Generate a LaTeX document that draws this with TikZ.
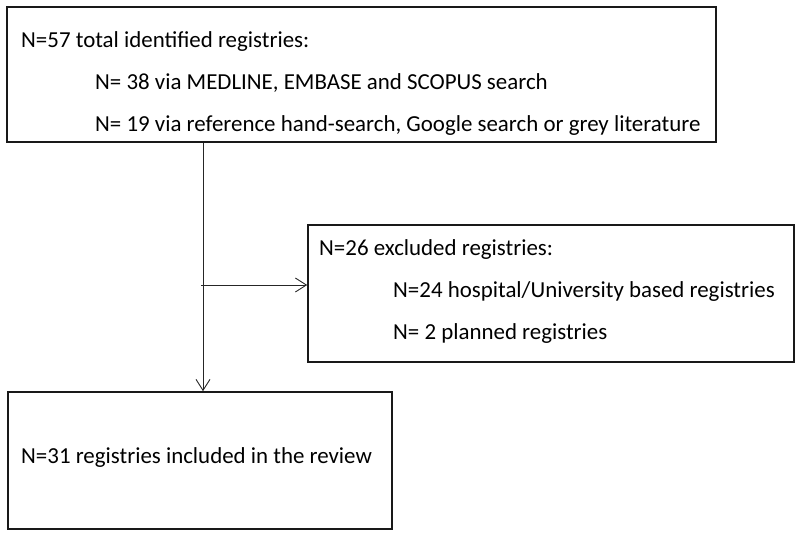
\documentclass[tikz,border=0pt]{standalone}
\usepackage{fontspec}
\setmainfont{Carlito}
\usetikzlibrary{arrows.meta}
\begin{document}
\begin{tikzpicture}[x=1pt,y=-1pt,
  box/.style={draw=black!90,line width=1.6pt,minimum width=#1,inner sep=0pt},
  txt/.style={anchor=base west,inner sep=0pt,font=\fontsize{22.9}{27}\selectfont},
  conn/.style={draw=black!85,line width=0.9pt},
  tip/.style={-{Straight Barb[length=11pt,width=14pt,line width=0.9pt]}}]
\useasboundingbox (0,0) rectangle (800,533);
% boxes
\node[box=709pt,minimum height=135pt] (top) at (361.5,74.5) {};
\node[box=486pt,minimum height=137pt] (excl) at (551,293.5) {};
\node[box=384pt,minimum height=137pt] (incl) at (200,460.5) {};
% texts
\node[txt] (t1) at (21,47) {N=57 total identified registries:};
\node[txt] (t2) at (95,89) {N= 38 via MEDLINE, EMBASE and SCOPUS search};
\node[txt] (t3) at (95,131) {N= 19 via reference hand-search, Google search or grey literature};
\node[txt] (e1) at (319,255) {N=26 excluded registries:};
\node[txt] (e2) at (393,297) {N=24 hospital/University based registries};
\node[txt] (e3) at (393,339) {N= 2 planned registries};
\node[txt] (i1) at (21,463) {N=31 registries included in the review};
% connectors
\coordinate (split) at (203,285);
\draw[conn,tip] (top.south -| split) -- (incl.north -| split);
\draw[conn,tip] (201,285) -- (excl.west |- split);
\end{tikzpicture}
\end{document}
